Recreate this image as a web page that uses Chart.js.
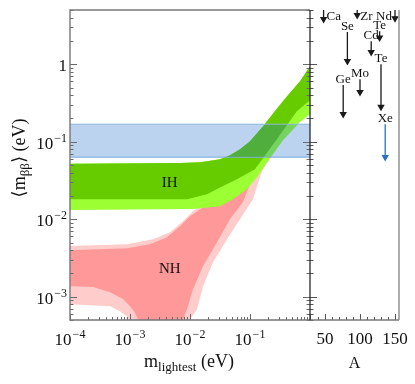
<!DOCTYPE html>
<html>
<head>
<meta charset="utf-8">
<script src="https://cdn.jsdelivr.net/npm/chart.js@4.4.0/dist/chart.umd.min.js"></script>
<style>
  body { margin: 0; background: #fff; }
  #wrap { position: relative; width: 415px; height: 384px; overflow: hidden; }
  canvas { position: absolute; top: 0; }
</style>
</head>
<body>
<div id="wrap">
  <canvas id="massChart" width="313" height="384" style="left:0"></canvas>
  <canvas id="isoChart" width="115" height="384" style="left:300px"></canvas>
</div>
<script>
// m_lightest (eV) / <m_bb> (eV)
// inverted hierarchy: shared upper edge, lower edge of inner band, lower edge of wide band
const ihUpM = [1e-4, 6.8e-3, 0.0147, 0.0316, 0.0464, 0.068, 0.1, 0.165, 0.261, 0.414, 0.681, 1.0];
const ihUpV = [0.052, 0.053, 0.0544, 0.0594, 0.067, 0.080, 0.101, 0.158, 0.248, 0.386, 0.604, 0.942];
const ihLoM = [1e-4, 8.9e-3, 0.0192, 0.0355, 0.0607, 0.121, 0.282, 0.607, 1.0];
const ihLoV = [0.0181, 0.0181, 0.021, 0.0267, 0.0328, 0.0442, 0.108, 0.248, 0.343];
const ihLo3M = [1e-4, 0.0112, 0.0316, 0.0521, 0.0891, 0.131, 0.178, 0.355, 0.681, 1.0];
const ihLo3V = [0.0131, 0.0135, 0.0147, 0.0181, 0.0244, 0.0348, 0.0497, 0.1045, 0.179, 0.226];

// normal hierarchy (1e-5 = cancellation, below the axis)
const nhUpM = [1e-4, 8.9e-4, 2.15e-3, 4.14e-3, 6.8e-3, 0.01, 0.0165, 0.0282, 0.068, 0.165, 0.414, 1.0];
const nhUpV = [0.00398, 0.00423, 0.00475, 0.00586, 0.0081, 0.0109, 0.0143, 0.0171, 0.0416, 0.0875, 0.213, 0.52];
const nhLoM = [1e-4, 2.42e-4, 4.64e-4, 7.64e-4, 1e-3, 1.17e-3, 1.36e-3, 1.47e-3, 7.36e-3, 7.7e-3, 8.9e-3, 0.0112, 0.0165, 0.0282, 0.0464, 0.0764, 0.108, 0.178, 0.414, 1.0];
const nhLoV = [0.00136, 0.00133, 0.00114, 0.00093, 0.00075, 0.00065, 0.00051, 1e-5, 1e-5, 0.00051, 0.00069, 0.00125, 0.00248, 0.00505, 0.01, 0.0166, 0.0328, 0.0594, 0.154, 0.353];
const nhUp3M = [1e-4, 8.9e-4, 2.42e-3, 4.64e-3, 7.64e-3, 0.0112, 0.0192, 0.0316, 0.068, 0.165, 0.414, 1.0];
const nhUp3V = [0.00449, 0.00475, 0.00552, 0.0068, 0.0094, 0.0127, 0.0166, 0.0192, 0.0442, 0.0929, 0.226, 0.552];
const nhLo3M = [1e-4, 4.64e-4, 6.8e-4, 9.26e-4, 1e-3, 1.03e-3, 9.26e-3, 0.01, 0.0131, 0.0165, 0.0242, 0.0414, 0.068, 0.112, 0.158, 0.355, 0.681, 1.0];
const nhLo3V = [0.0008, 0.00075, 0.00065, 0.000544, 0.00048, 1e-5, 1e-5, 0.00051, 0.00069, 0.00136, 0.00279, 0.00552, 0.01, 0.0181, 0.0416, 0.111, 0.189, 0.24];

// Xe limit band
const xeBand = [0.063, 0.168];

// isotopes (mass number A, limit range in eV)
const isoNames = ['Ca', 'Ge', 'Se', 'Zr', 'Mo', 'Cd', 'Te', 'Te', 'Xe', 'Nd'];
const isoA = [48, 76, 82, 96, 100, 116, 128, 130, 136, 150];
const isoTop = [5.0, 0.54, 2.6, 5.0, 0.64, 1.98, 2.66, 1.0, 0.168, 5.0];
const isoLow = [3.8, 0.226, 1.09, 4.3, 0.435, 1.43, 2.2, 0.28, 0.063, 3.9];

// tick labels
const mTicks = [1e-4, 1e-3, 1e-2, 1e-1];
const mTickLabels = [['10', '−4'], ['10', '−3'], ['10', '−2'], ['10', '−1']];
const mbbTicks = [1e-3, 1e-2, 1e-1, 1];
const mbbTickLabels = [['10', '−3'], ['10', '−2'], ['10', '−1'], ['1', '']];
const aTicks = [50, 100, 150];

const SERIF = '"Liberation Serif", "DejaVu Serif", serif';

function pts(ms, vs) {
    return ms.map(function(m, i) { return { x: m, y: vs[i] }; });
}

function edge(data, fill, color) {
    return { data: data, fill: fill, backgroundColor: color, borderColor: 'rgba(0,0,0,0)',
             borderWidth: 0, pointRadius: 0, tension: 0 };
}

function logTicks(min, max) {
    let out = [];
    for (let e = Math.floor(Math.log10(min)); e <= Math.ceil(Math.log10(max)); e++) {
        for (let k = 1; k < 10; k++) {
            let v = k * Math.pow(10, e);
            if (v >= min * 0.999 && v <= max * 1.001) out.push({ v: v, major: k === 1 });
        }
    }
    return out;
}

function seg(ctx, x1, y1, x2, y2) {
    ctx.beginPath(); ctx.moveTo(x1, y1); ctx.lineTo(x2, y2); ctx.stroke();
}

// "10" with a raised exponent
function powLabel(ctx, base, exp, x, y, align) {
    ctx.font = '17px ' + SERIF;
    let wb = ctx.measureText(base).width;
    ctx.font = '12px ' + SERIF;
    let we = exp ? ctx.measureText(exp).width + 1 : 0;
    let x0 = align === 'right' ? x - wb - we : x - (wb + we) / 2;
    ctx.textAlign = 'left';
    ctx.font = '17px ' + SERIF;
    ctx.fillText(base, x0, y);
    if (exp) {
        ctx.font = '12px ' + SERIF;
        ctx.fillText(exp, x0 + wb + 1, y - 7);
    }
}

const massAxes = {
    id: 'massAxes',
    afterDraw: function(chart) {
        let ctx = chart.ctx, a = chart.chartArea, x = chart.scales.x, y = chart.scales.y;
        ctx.save();
        ctx.strokeStyle = '#6a6a6a';
        ctx.lineWidth = 1;
        logTicks(y.min, y.max).forEach(function(t) {
            let py = Math.round(y.getPixelForValue(t.v)) + 0.5;
            let len = t.major ? 7 : 3.5;
            seg(ctx, a.left, py, a.left + len, py);
            seg(ctx, a.right - len, py, a.right, py);
        });
        logTicks(x.min, x.max).forEach(function(t) {
            let px = Math.round(x.getPixelForValue(t.v)) + 0.5;
            let len = t.major ? 6 : 3;
            seg(ctx, px, a.bottom - len, px, a.bottom);
        });
        ctx.lineWidth = 1.4;
        ctx.strokeStyle = '#777';
        ctx.beginPath();
        ctx.moveTo(a.right, a.top); ctx.lineTo(a.left, a.top);
        ctx.lineTo(a.left, a.bottom); ctx.lineTo(a.right, a.bottom);
        ctx.stroke();

        ctx.fillStyle = '#111';
        ctx.textBaseline = 'alphabetic';
        mTicks.forEach(function(v, i) {
            powLabel(ctx, mTickLabels[i][0], mTickLabels[i][1], x.getPixelForValue(v), a.bottom + 25, 'center');
        });
        mbbTicks.forEach(function(v, i) {
            powLabel(ctx, mbbTickLabels[i][0], mbbTickLabels[i][1], a.left - 3, y.getPixelForValue(v) + 7, 'right');
        });

        // x title
        ctx.font = '18px ' + SERIF;
        let w1 = ctx.measureText('m').width, w3 = ctx.measureText(' (eV)').width;
        ctx.font = '13px ' + SERIF;
        let w2 = ctx.measureText('lightest').width;
        let x0 = (a.left + a.right) / 2 - 1 - (w1 + w2 + w3) / 2, by = a.bottom + 47;
        ctx.font = '18px ' + SERIF; ctx.fillText('m', x0, by);
        ctx.font = '13px ' + SERIF; ctx.fillText('lightest', x0 + w1, by + 4);
        ctx.font = '18px ' + SERIF; ctx.fillText(' (eV)', x0 + w1 + w2, by);

        // y title
        ctx.save();
        ctx.translate(25, 158);
        ctx.rotate(-Math.PI / 2);
        ctx.font = '18px ' + SERIF;
        let t1 = ctx.measureText('⟨m').width, t3 = ctx.measureText('⟩ (eV)').width;
        ctx.font = '13px ' + SERIF;
        let t2 = ctx.measureText('ββ').width;
        let s0 = -(t1 + t2 + t3) / 2;
        ctx.font = '18px ' + SERIF; ctx.fillText('⟨m', s0, 0);
        ctx.font = '13px ' + SERIF; ctx.fillText('ββ', s0 + t1, 4);
        ctx.font = '18px ' + SERIF; ctx.fillText('⟩ (eV)', s0 + t1 + t2, 0);
        ctx.restore();

        // region labels
        ctx.font = '15px ' + SERIF;
        ctx.textAlign = 'center';
        ctx.fillText('IH', x.getPixelForValue(4.6e-3), y.getPixelForValue(0.0259));
        ctx.fillText('NH', x.getPixelForValue(4.6e-3), y.getPixelForValue(0.00201));
        ctx.restore();
    }
};

// label placement per isotope: above the arrow, or to its side
const isoPlace = ['right', 'above', 'above', 'right', 'above', 'above', 'above', 'above', 'above', 'left'];

const isoAxes = {
    id: 'isoAxes',
    afterDraw: function(chart) {
        let ctx = chart.ctx, a = chart.chartArea, x = chart.scales.x, y = chart.scales.y;
        ctx.save();
        ctx.strokeStyle = '#555';
        ctx.lineWidth = 1;
        logTicks(y.min, y.max).forEach(function(t) {
            let py = Math.round(y.getPixelForValue(t.v)) + 0.5;
            seg(ctx, a.left, py, a.left + (t.major ? 7 : 3.5), py);
        });
        for (let v = 40; v <= 150; v += 10) {
            let px = Math.round(x.getPixelForValue(v)) + 0.5;
            seg(ctx, px, a.bottom - (v % 50 === 0 ? 6 : 3), px, a.bottom);
        }
        ctx.lineWidth = 1.4;
        ctx.strokeStyle = '#777';
        seg(ctx, a.left, a.bottom, a.right, a.bottom);
        ctx.strokeStyle = '#999';
        ctx.lineWidth = 1.6;
        seg(ctx, a.right, a.top, a.right, a.bottom);
        ctx.strokeStyle = '#2a2a2a';
        ctx.lineWidth = 1.3;
        seg(ctx, a.left, a.top, a.left, a.bottom);

        ctx.fillStyle = '#111';
        ctx.textBaseline = 'alphabetic';
        ctx.textAlign = 'center';
        ctx.font = '17px ' + SERIF;
        aTicks.forEach(function(v) {
            ctx.fillText(String(v), x.getPixelForValue(v), a.bottom + 24);
        });
        ctx.font = '16px ' + SERIF;
        ctx.fillText('A', (a.left + a.right) / 2, a.bottom + 48);

        ctx.font = '13px ' + SERIF;
        isoNames.forEach(function(name, i) {
            let px = x.getPixelForValue(isoA[i]);
            let pt = y.getPixelForValue(isoTop[i]);
            if (isoPlace[i] === 'right') {
                ctx.textAlign = 'left';
                ctx.fillText(name, px + 3, pt + 10);
            } else if (isoPlace[i] === 'left') {
                ctx.textAlign = 'right';
                ctx.fillText(name, px - 3, pt + 10);
            } else {
                ctx.textAlign = 'center';
                ctx.fillText(name, px, pt - 2);
            }
        });
        ctx.restore();
    }
};

const blueFill = 'rgba(30,110,200,0.3)';
const blueLine = '#8db5e0';

new Chart(document.getElementById('massChart').getContext('2d'), {
    type: 'line',
    data: {
        datasets: [
            { data: pts([1e-4, 1], [xeBand[1], xeBand[1]]), fill: '+1', backgroundColor: blueFill,
              borderColor: blueLine, borderWidth: 1, pointRadius: 0 },
            { data: pts([1e-4, 1], [xeBand[0], xeBand[0]]), fill: false,
              borderColor: blueLine, borderWidth: 1, pointRadius: 0 },
            edge(pts(ihUpM, ihUpV), '+1', '#66cc00'),
            edge(pts(ihLoM, ihLoV), false, 'rgba(0,0,0,0)'),
            edge(pts(ihUpM, ihUpV), '+1', '#9cff33'),
            edge(pts(ihLo3M, ihLo3V), false, 'rgba(0,0,0,0)'),
            edge(pts(nhUpM, nhUpV), '+1', '#ff9999'),
            edge(pts(nhLoM, nhLoV), false, 'rgba(0,0,0,0)'),
            edge(pts(nhUp3M, nhUp3V), '+1', '#ffcccc'),
            edge(pts(nhLo3M, nhLo3V), false, 'rgba(0,0,0,0)')
        ]
    },
    options: {
        responsive: false,
        animation: false,
        events: [],
        layout: { padding: { left: 70, right: 3, top: 10, bottom: 64 } },
        plugins: { legend: { display: false }, tooltip: { enabled: false } },
        scales: {
            x: { type: 'logarithmic', min: 1e-4, max: 1, display: false },
            y: { type: 'logarithmic', min: 5e-4, max: 5, display: false }
        }
    },
    plugins: [massAxes]
});

new Chart(document.getElementById('isoChart').getContext('2d'), {
    type: 'line',
    data: {
        datasets: isoNames.map(function(name, i) {
            let c = name === 'Xe' ? '#2a72c8' : '#1a1a1a';
            return {
                data: [{ x: isoA[i], y: isoTop[i] }, { x: isoA[i], y: isoLow[i] }],
                borderColor: c, backgroundColor: c, borderWidth: 1.3,
                pointRadius: [0, 3], pointStyle: 'triangle', rotation: 180, fill: false
            };
        })
    },
    options: {
        responsive: false,
        animation: false,
        events: [],
        layout: { padding: { left: 10, right: 16, top: 10, bottom: 64 } },
        plugins: { legend: { display: false }, tooltip: { enabled: false } },
        scales: {
            x: { type: 'linear', min: 28.6, max: 155.7, display: false },
            y: { type: 'logarithmic', min: 5e-4, max: 5, display: false }
        }
    },
    plugins: [isoAxes]
});
</script>
</body>
</html>
